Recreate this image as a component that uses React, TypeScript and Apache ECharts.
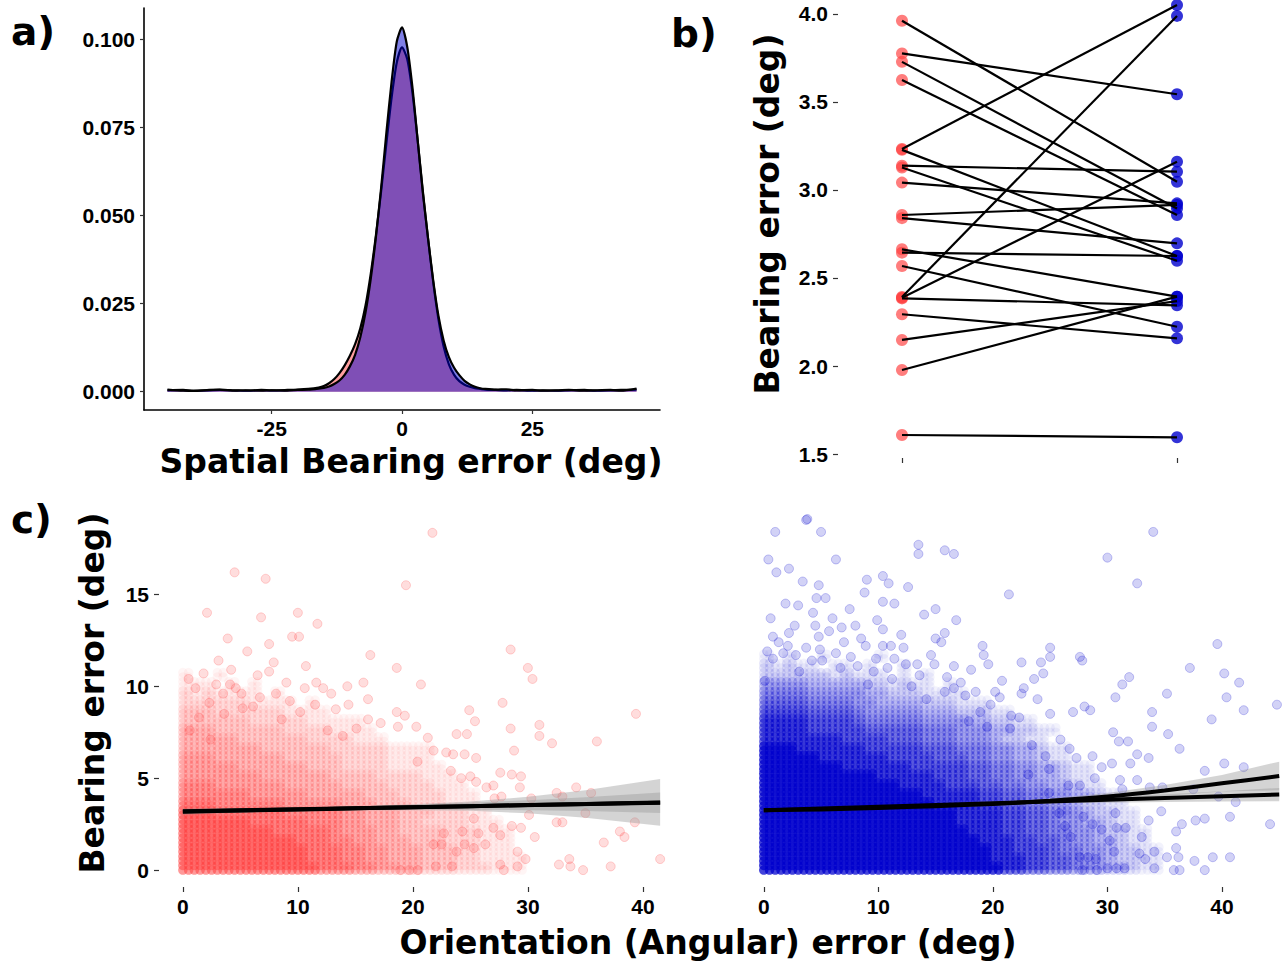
import React, { useEffect, useRef } from "react";
import * as echarts from "echarts";

// ---------------- Panel a: density of spatial bearing error ----------------
const densX = [-45, -42, -40, -37, -35, -32, -30, -27, -25, -22, -20, -18, -16, -15, -14, -13, -12, -11, -10, -9, -8, -7, -6, -5, -4, -3, -2, -1, 0, 1, 2, 3, 4, 5, 6, 7, 8, 9, 10, 11, 12, 13, 14, 15, 16, 18, 20, 22, 25, 27, 30, 32, 35, 37, 40, 42, 45];
const densRed = [0.0004, 0.0005, 0.0003, 0.0004, 0.0005, 0.0004, 0.0003, 0.0005, 0.0004, 0.0005, 0.0006, 0.0008, 0.0012, 0.0016, 0.0024, 0.0036, 0.0053, 0.0075, 0.0102, 0.0135, 0.018, 0.0245, 0.0335, 0.0445, 0.057, 0.0705, 0.0835, 0.0935, 0.0978, 0.0945, 0.085, 0.0715, 0.057, 0.0435, 0.031, 0.0205, 0.0128, 0.0078, 0.0048, 0.003, 0.002, 0.0014, 0.001, 0.0008, 0.0006, 0.0005, 0.0004, 0.0005, 0.0003, 0.0004, 0.0003, 0.0004, 0.0005, 0.0003, 0.0004, 0.0005, 0.0006];
const densBlue = [0.0006, 0.0003, 0.0002, 0.0005, 0.0006, 0.0003, 0.0004, 0.0003, 0.0004, 0.0003, 0.0005, 0.0006, 0.0009, 0.0011, 0.0015, 0.0022, 0.0032, 0.0048, 0.0072, 0.0105, 0.0155, 0.0225, 0.032, 0.044, 0.058, 0.0735, 0.088, 0.0995, 0.1035, 0.098, 0.0865, 0.0715, 0.0565, 0.0435, 0.0315, 0.0215, 0.0145, 0.0098, 0.0068, 0.0047, 0.0031, 0.0021, 0.0014, 0.001, 0.0008, 0.0006, 0.0007, 0.0004, 0.0005, 0.0003, 0.0004, 0.0005, 0.0003, 0.0004, 0.0005, 0.0003, 0.0009];
const densXTicks = [-25, 0, 25];
const densYTicks = [0, 0.025, 0.05, 0.075, 0.1];

// ---------------- Panel b: paired bearing error ----------------
const pairRed = [3.962, 3.776, 3.728, 3.625, 3.233, 3.228, 3.138, 3.128, 3.042, 2.858, 2.840, 2.663, 2.644, 2.568, 2.392, 2.388, 2.384, 2.294, 2.148, 1.977, 1.608];
const pairBlue = [3.047, 3.544, 2.895, 2.858, 4.051, 2.625, 3.104, 2.598, 2.924, 2.915, 2.697, 2.394, 2.625, 2.223, 3.989, 3.161, 2.345, 2.157, 2.369, 2.394, 1.595];
const pairYTicks = [1.5, 2.0, 2.5, 3.0, 3.5, 4.0];
const pairXTicks = [1, 2];

// ---------------- Panel c: scatter, orientation error vs bearing error ----------------
const scatXTicks = [0, 10, 20, 30, 40];
const scatYTicks = [0, 5, 10, 15];

// dense cores: estimated darkness level (0-9) of the overlapping points per cell;
// rows from y=12 down to y=0 (step 0.5), columns x=0..34 (step 1)
const blueCoreRows = [
  "00000000000000000000000000000000000",
  "10100100001000000000000000000000000",
  "21211011010010000000000000000000000",
  "22222212111010100000000000000000000",
  "44443333322121101000000000000000000",
  "55554444433222111100000000000000000",
  "66665555443333222111000000000000000",
  "77776666544444333222110000000000000",
  "88887777655555444433221100000000000",
  "88887777766666555444332211000000000",
  "88888887777666555444322110000000000",
  "99988888877777666555443321100000000",
  "99999888888777766655443321100000000",
  "99999998888887777766554433211000000",
  "99999999998888877766554433211000000",
  "99999999999988887776655443321100000",
  "99999999999999888887766554433211000",
  "99999999999999988887766554432211000",
  "99999999999999999888877665543221100",
  "99999999999999999888877665443321100",
  "99999999999999999988877665544322110",
  "99999999999999999998887766544332110",
  "99999999999999999999887776554432211",
  "99999999999999999999888776654432211",
  "99999999999999999999988776655433211",
];
const redCoreRows = [
  "00000000000000000000000000000000000",
  "00000000000000000000000000000000000",
  "00000000000000000000000000000000000",
  "10010000000000000000000000000000000",
  "11101010000000000000000000000000000",
  "21211110100000000000000000000000000",
  "22222211110100000000000000000000000",
  "33322222211110000000000000000000000",
  "33333322222111110000000000000000000",
  "44433333322221111000000000000000000",
  "44444333333222211100000000000000000",
  "44444443333332222211110000000000000",
  "55544444433333222211110000000000000",
  "55555444444333222211111000000000000",
  "55555554444443333222211100000000000",
  "66655555544444333322221110000000000",
  "66666655555444443332222111000000000",
  "77766666655555444333222111000000000",
  "88877777766666554443332221100000000",
  "88888877777666554443322221110000000",
  "88888888777776555443333222111000000",
  "88888888887776655444333222111000000",
  "88888888888777665544433322111000000",
  "88888888888777665544433322111100000",
  "88888888888877766554433322211100000",
];

// sparse, individually visible points [orientation error, bearing error]
const redPts = [
  [21.7, 18.35], [4.5, 16.2], [7.2, 15.85], [19.4, 15.5], [2.1, 14.0], [6.8, 13.75], [10.0, 14.0], [11.7, 13.4], [9.5, 12.7], [10.1, 12.7],
  [3.9, 12.6], [7.5, 12.3], [28.5, 12.0], [16.3, 11.7], [10.7, 11.1], [30.0, 11.0], [7.9, 11.3], [4.2, 10.9], [18.6, 11.0], [30.4, 10.4],
  [1.8, 10.7], [6.5, 10.6], [7.5, 10.8], [9.0, 10.2], [11.6, 10.2], [15.7, 10.2], [20.7, 10.1], [14.3, 10.0], [12.2, 9.9], [1.1, 9.9],
  [2.9, 10.1], [4.1, 10.1], [10.6, 9.9], [16.1, 9.3], [27.8, 9.1], [3.5, 9.6], [5.1, 9.6], [6.7, 9.4], [9.3, 9.2], [11.5, 9.0],
  [13.3, 8.75], [14.4, 9.0], [24.9, 8.7], [39.4, 8.5], [19.3, 8.4], [18.6, 8.6], [3.6, 8.5], [5.2, 8.8], [16.1, 8.2], [17.2, 8.0],
  [25.4, 8.1], [31.0, 7.9], [20.3, 7.8], [18.7, 7.8], [28.5, 7.7], [31.0, 7.3], [23.8, 7.4], [24.7, 7.4], [21.3, 7.2], [36.0, 7.0],
  [32.1, 6.9], [21.8, 6.5], [28.8, 6.5], [22.9, 6.4], [24.5, 6.3], [25.5, 6.1], [20.4, 5.9], [23.5, 6.3], [23.3, 5.4], [27.6, 5.3],
  [28.6, 5.2], [29.4, 5.1], [24.2, 5.0], [25.0, 5.1], [25.5, 4.8], [26.4, 4.5], [27.0, 4.6], [29.3, 4.5], [34.2, 4.5], [32.5, 4.2],
  [35.5, 4.2], [33.0, 4.0], [30.3, 3.9], [27.7, 4.0], [27.1, 3.9], [35.0, 3.1], [30.1, 3.0], [28.6, 2.4], [29.4, 2.3], [32.5, 2.6],
  [33.0, 2.6], [39.3, 2.6], [30.6, 1.8], [27.6, 1.9], [27.0, 2.3], [25.3, 2.8], [24.3, 2.1], [25.7, 2.0], [26.3, 1.4], [24.5, 1.4],
  [25.3, 1.2], [38.0, 2.1], [38.4, 1.8], [36.6, 1.5], [29.1, 1.0], [29.8, 0.6], [29.1, 0.2], [27.6, 0.3], [27.9, 0.0], [32.7, 0.3],
  [33.6, 0.6], [33.7, 0.2], [34.8, 0.0], [37.2, 0.2], [41.5, 0.6], [23.8, 1.0], [23.4, 0.2], [22.0, 0.2], [22.7, 2.0], [21.8, 1.4],
  [22.5, 1.4], [20.4, 0.0], [19.7, 0.0], [18.9, 0.0], [13.9, 7.3], [12.6, 7.6], [8.6, 8.2], [0.6, 7.6], [2.4, 7.1], [15.1, 7.7],
  [0.5, 10.4], [2.3, 9.1], [4.6, 9.9], [8.1, 9.6], [6.1, 8.9], [10.2, 8.6], [12.9, 9.6], [1.4, 8.3], [3.1, 11.4], [5.6, 11.9],
];
const bluePts = [
  [12.85, 19.4], [3.8, 19.1], [3.7, 19.05], [1.0, 18.4], [5.0, 18.4], [34.0, 18.4], [13.5, 17.7], [13.5, 17.2], [15.8, 17.4], [16.6, 17.2],
  [0.4, 16.9], [6.3, 16.9], [30.0, 17.0], [1.1, 16.2], [2.2, 16.4], [3.4, 15.7], [4.8, 15.5], [9.0, 15.8], [10.4, 16.0], [10.9, 15.6],
  [12.6, 15.4], [8.8, 15.1], [32.6, 15.6], [4.6, 14.8], [5.4, 14.8], [1.9, 14.5], [10.4, 14.6], [11.4, 14.5], [21.4, 15.0], [0.6, 13.7],
  [4.3, 14.0], [7.5, 14.2], [9.9, 13.6], [14.0, 13.9], [15.0, 14.2], [16.8, 13.6], [0.8, 12.7], [2.7, 13.3], [4.5, 13.3], [6.8, 13.2],
  [8.0, 13.3], [10.4, 13.1], [2.2, 12.9], [4.8, 12.7], [5.7, 13.0], [15.0, 12.6], [15.8, 12.9], [8.5, 12.6], [2.1, 12.2], [3.7, 12.1],
  [7.0, 12.4], [8.9, 12.2], [10.4, 12.2], [11.1, 12.2], [12.2, 12.1], [15.5, 12.4], [19.1, 12.2], [25.0, 12.1], [39.6, 12.3], [0.1, 10.3],
  [0.8, 11.5], [1.7, 11.8], [2.8, 11.7], [4.2, 11.4], [5.1, 11.4], [6.3, 11.8], [6.7, 11.0], [8.2, 11.1], [9.8, 11.5], [11.4, 11.5],
  [12.4, 11.2], [13.4, 11.2], [14.9, 11.2], [16.6, 11.1], [19.2, 11.7], [19.6, 11.2], [22.5, 11.3], [24.2, 11.3], [25.0, 11.6], [27.6, 11.6],
  [27.8, 11.4], [37.2, 11.0], [40.2, 10.7], [41.5, 10.2], [44.8, 9.0], [35.2, 9.6], [40.4, 9.4], [41.9, 8.7], [39.1, 8.2], [36.3, 6.6],
  [31.9, 10.5], [31.3, 10.1], [30.7, 9.4], [33.9, 8.6], [33.9, 7.8], [35.3, 7.4], [30.5, 7.5], [31.0, 7.0], [31.8, 7.0], [28.7, 6.2],
  [32.6, 6.3], [33.6, 6.1], [32.0, 5.8], [30.4, 5.8], [29.5, 5.6], [38.5, 5.4], [40.2, 5.8], [41.9, 5.6], [27.0, 8.6], [28.0, 8.9],
  [28.5, 8.7], [25.0, 8.5], [22.5, 9.6], [23.6, 10.4], [24.4, 10.7], [23.9, 9.3], [22.7, 9.9], [21.6, 8.4], [22.3, 8.3], [20.6, 9.4],
  [20.2, 9.7], [18.5, 9.7], [17.6, 9.5], [16.6, 9.9], [15.8, 9.7], [27.3, 6.1], [26.7, 6.6], [25.9, 7.1], [28.9, 5.0], [31.1, 4.9],
  [31.3, 4.4], [32.6, 4.9], [33.7, 4.5], [34.8, 4.5], [37.5, 4.4], [39.7, 4.0], [41.2, 3.7], [44.2, 2.5], [40.7, 2.9], [38.5, 2.8],
  [37.7, 2.7], [36.5, 2.5], [36.0, 2.1], [34.7, 3.2], [33.6, 2.7], [33.0, 1.8], [31.6, 2.3], [30.7, 3.1], [30.8, 2.3], [30.2, 1.6],
  [30.6, 1.0], [32.8, 0.9], [33.3, 0.6], [34.1, 1.0], [35.2, 0.7], [36.0, 1.2], [36.2, 0.7], [37.6, 0.5], [39.2, 0.7], [40.7, 0.7],
  [35.8, 0.0], [36.3, 0.0], [38.5, 0.0], [34.1, 0.1], [31.5, 0.1], [30.8, 0.1], [30.0, 0.1], [29.1, 0.0], [27.8, 0.0], [29.0, 0.6],
  [28.3, 0.7], [27.6, 0.7], [27.9, 2.9], [28.7, 2.5], [29.5, 2.2], [26.8, 1.8], [26.3, 2.4], [25.8, 3.1], [26.6, 4.6], [27.6, 4.6],
  [24.9, 5.5], [24.9, 4.2], [23.1, 5.2], [18.9, 8.6], [19.5, 7.8], [17.9, 8.1], [14.2, 9.3], [12.9, 10.0], [11.2, 10.4], [9.6, 10.8],
  [0.3, 11.9], [1.3, 12.4], [3.1, 10.8], [4.9, 12.0], [7.6, 11.6], [9.1, 10.1], [10.8, 11.0], [13.6, 10.6], [16.0, 10.5], [18.1, 10.9],
  [20.8, 10.3], [21.5, 7.7], [23.4, 6.8], [24.6, 6.2], [19.8, 9.0], [17.2, 10.2], [14.6, 11.7], [12.0, 12.8], [6.0, 13.7], [3.0, 14.4],
];

// regression fits (linear and smooth) with confidence bands
const fitLX = [0, 5, 10, 15, 20, 25, 30, 35, 41.5];
const lmLineLX = [0, 41.5];
const lmLineLY = [3.2, 3.66];
const lmBandLLo = [3.08, 3.155, 3.22, 3.266, 3.29, 3.287, 3.26, 3.22, 3.1];
const lmBandLHi = [3.32, 3.355, 3.4, 3.466, 3.55, 3.667, 3.8, 3.96, 4.22];
const smLineLY = [3.18, 3.24, 3.3, 3.36, 3.42, 3.48, 3.54, 3.6, 3.68];
const smBandLLo = [3.01, 3.12, 3.19, 3.24, 3.26, 3.23, 3.09, 2.85, 2.41];
const smBandLHi = [3.35, 3.36, 3.41, 3.48, 3.58, 3.73, 3.99, 4.35, 4.95];

const fitRX = [0, 5, 10, 15, 20, 25, 30, 35, 40, 45];
const lmLineRX = [0, 45];
const lmLineRY = [3.25, 4.11];
const lmBandRLo = [3.18, 3.3, 3.4, 3.49, 3.56, 3.63, 3.67, 3.71, 3.73, 3.75];
const lmBandRHi = [3.32, 3.4, 3.49, 3.59, 3.7, 3.83, 3.97, 4.13, 4.29, 4.47];
const smLineRY = [3.25, 3.3, 3.38, 3.48, 3.6, 3.77, 4.0, 4.33, 4.72, 5.12];
const smBandRLo = [3.16, 3.24, 3.32, 3.41, 3.51, 3.64, 3.8, 4.03, 4.27, 4.34];
const smBandRHi = [3.34, 3.36, 3.44, 3.55, 3.69, 3.9, 4.2, 4.63, 5.17, 5.9];

const RED = "255,64,64";
const BLUE = "0,0,205";
const FONT_TICK = '"Liberation Sans", Arial, Helvetica, sans-serif';
const FONT_TITLE = '"DejaVu Sans", sans-serif';
// effective darkness for levels 0-9
const LEVEL_DARK = [0, 0.12, 0.22, 0.32, 0.42, 0.52, 0.62, 0.72, 0.84, 0.96];
const CORE_SIZE = 9.5;
const CORE_COVER = 2.4; // average number of overlapping sub-points at one pixel
const SUB_DX = [0, 0.5];
const SUB_DY = [0, 0.25];

function coreData(rows: string[]) {
  const out: any[] = [];
  rows.forEach((row, i) => {
    const y = 12 - 0.5 * i;
    for (let j = 0; j < row.length; j++) {
      const n = Number(row[j]);
      if (n > 0) {
        const o = 1 - Math.pow(1 - LEVEL_DARK[n], 1 / CORE_COVER);
        for (const dx of SUB_DX) {
          for (const dy of SUB_DY) {
            out.push({ value: [j + dx, y + dy], itemStyle: { opacity: o } });
          }
        }
      }
    }
  });
  return out;
}

function band(xs: number[], lo: number[], hi: number[], xi: number, yi: number) {
  return {
    type: "custom",
    xAxisIndex: xi,
    yAxisIndex: yi,
    silent: true,
    z: 5,
    data: [[xs[0], lo[0]]],
    renderItem: (params: any, api: any) => {
      const up = xs.map((x, i) => api.coord([x, hi[i]]));
      const dn = xs.map((x, i) => api.coord([x, lo[i]])).reverse();
      return {
        type: "polygon",
        shape: { points: up.concat(dn) },
        style: { fill: "rgba(153,153,153,0.42)", stroke: "none" },
      };
    },
  };
}

const tickLabel = { fontSize: 21, fontWeight: "bold", fontFamily: FONT_TICK, color: "#000" };
const titleStyle = { fontSize: 33, fontWeight: "bold", fontFamily: FONT_TITLE, fill: "#000", textAlign: "center", textVerticalAlign: "middle" };
const tagStyle = { fontSize: 39, fontWeight: "bold", fontFamily: FONT_TITLE, fill: "#000", textAlign: "left", textVerticalAlign: "middle" };

export default function App() {
  const ref = useRef<HTMLDivElement>(null);
  useEffect(() => {
    if (!ref.current) return;
    const chart = echarts.init(ref.current, undefined, { renderer: "svg" });

    const pairSeries = pairRed.map((r, i) => ({
      type: "line",
      xAxisIndex: 1,
      yAxisIndex: 1,
      data: [[1, r], [2, pairBlue[i]]],
      symbol: "none",
      lineStyle: { color: "#000", width: 2.2 },
      z: 4,
      silent: true,
    }));

    const option: any = {
      animation: false,
      backgroundColor: "#fff",
      grid: [
        { left: 144, top: 8, width: 516, height: 402, outerBoundsMode: "none" },
        { left: 838, top: 0, width: 403, height: 458, outerBoundsMode: "none" },
        { left: 159, top: 515, width: 525, height: 372, outerBoundsMode: "none" },
        { left: 738, top: 515, width: 567, height: 372, outerBoundsMode: "none" },
      ],
      xAxis: [
        {
          type: "value", gridIndex: 0, min: -49.5, max: 49.5,
          axisLine: { show: true, onZero: false, lineStyle: { color: "#000", width: 1.6 } },
          axisTick: { show: true, length: 4, customValues: densXTicks, lineStyle: { color: "#333", width: 1.2 } },
          axisLabel: { ...tickLabel, margin: 8, customValues: densXTicks },
          splitLine: { show: false },
        },
        {
          type: "value", gridIndex: 1, min: 0.7673, max: 2.2327,
          axisLine: { show: false },
          axisTick: { show: true, length: 5, customValues: pairXTicks, lineStyle: { color: "#333", width: 1.2 } },
          axisLabel: { show: false },
          splitLine: { show: false },
        },
        {
          type: "value", gridIndex: 2, min: -2.075, max: 43.575,
          axisLine: { show: false, onZero: false },
          axisTick: { show: true, length: 5, customValues: scatXTicks, lineStyle: { color: "#333", width: 1.2 } },
          axisLabel: { ...tickLabel, margin: 9, customValues: scatXTicks },
          splitLine: { show: false },
        },
        {
          type: "value", gridIndex: 3, min: -2.25, max: 47.25,
          axisLine: { show: false, onZero: false },
          axisTick: { show: true, length: 5, customValues: scatXTicks, lineStyle: { color: "#333", width: 1.2 } },
          axisLabel: { ...tickLabel, margin: 9, customValues: scatXTicks },
          splitLine: { show: false },
        },
      ],
      yAxis: [
        {
          type: "value", gridIndex: 0, min: -0.00519, max: 0.109,
          axisLine: { show: true, onZero: false, lineStyle: { color: "#000", width: 1.6 } },
          axisTick: { show: true, length: 4, customValues: densYTicks, lineStyle: { color: "#333", width: 1.2 } },
          axisLabel: { ...tickLabel, margin: 9, customValues: densYTicks, formatter: (v: number) => v.toFixed(3) },
          splitLine: { show: false },
        },
        {
          type: "value", gridIndex: 1, min: 1.4773, max: 4.0795,
          axisLine: { show: false },
          axisTick: { show: true, length: 5, customValues: pairYTicks, lineStyle: { color: "#333", width: 1.2 } },
          axisLabel: { ...tickLabel, margin: 10, customValues: pairYTicks, formatter: (v: number) => v.toFixed(1) },
          splitLine: { show: false },
        },
        {
          type: "value", gridIndex: 2, min: -0.92, max: 19.32,
          axisLine: { show: false, onZero: false },
          axisTick: { show: true, length: 5, customValues: scatYTicks, lineStyle: { color: "#333", width: 1.2 } },
          axisLabel: { ...tickLabel, margin: 10, customValues: scatYTicks },
          splitLine: { show: false },
        },
        {
          type: "value", gridIndex: 3, min: -0.92, max: 19.32,
          axisLine: { show: false, onZero: false },
          axisTick: { show: false },
          axisLabel: { show: false },
          splitLine: { show: false },
        },
      ],
      series: [
        // panel a
        {
          type: "line", xAxisIndex: 0, yAxisIndex: 0, smooth: 0.25, showSymbol: false, symbol: "none",
          data: densX.map((x, i) => [x, densRed[i]]),
          lineStyle: { color: "#000", width: 2.2 },
          areaStyle: { color: `rgb(${RED})`, opacity: 0.5, origin: 0 },
          z: 2, silent: true,
        },
        {
          type: "line", xAxisIndex: 0, yAxisIndex: 0, smooth: 0.25, showSymbol: false, symbol: "none",
          data: densX.map((x, i) => [x, densBlue[i]]),
          lineStyle: { color: "#000", width: 2.2 },
          areaStyle: { color: `rgb(${BLUE})`, opacity: 0.5, origin: 0 },
          z: 3, silent: true,
        },
        // panel b
        {
          type: "scatter", xAxisIndex: 1, yAxisIndex: 1, symbolSize: 12,
          data: pairRed.map((v) => [1, v]),
          itemStyle: { color: `rgba(${RED},0.85)` }, z: 2, silent: true,
        },
        {
          type: "scatter", xAxisIndex: 1, yAxisIndex: 1, symbolSize: 12,
          data: pairBlue.map((v) => [2, v]),
          itemStyle: { color: `rgb(${BLUE})` }, z: 2, silent: true,
        },
        ...pairSeries,
        // panel c left
        {
          type: "scatter", xAxisIndex: 2, yAxisIndex: 2, symbolSize: CORE_SIZE,
          data: coreData(redCoreRows),
          itemStyle: { color: `rgb(${RED})` }, z: 1, silent: true,
        },
        {
          type: "scatter", xAxisIndex: 2, yAxisIndex: 2, symbolSize: 9,
          data: redPts,
          itemStyle: { color: `rgba(${RED},0.22)`, borderColor: `rgba(${RED},0.28)`, borderWidth: 1 }, z: 2, silent: true,
        },
        band(fitLX, smBandLLo, smBandLHi, 2, 2),
        band(fitLX, lmBandLLo, lmBandLHi, 2, 2),
        {
          type: "line", xAxisIndex: 2, yAxisIndex: 2, smooth: 0.3, symbol: "none",
          data: fitLX.map((x, i) => [x, smLineLY[i]]),
          lineStyle: { color: "#000", width: 4 }, z: 6, silent: true,
        },
        {
          type: "line", xAxisIndex: 2, yAxisIndex: 2, symbol: "none",
          data: lmLineLX.map((x, i) => [x, lmLineLY[i]]),
          lineStyle: { color: "#000", width: 4 }, z: 6, silent: true,
        },
        // panel c right
        {
          type: "scatter", xAxisIndex: 3, yAxisIndex: 3, symbolSize: CORE_SIZE,
          data: coreData(blueCoreRows),
          itemStyle: { color: `rgb(${BLUE})` }, z: 1, silent: true,
        },
        {
          type: "scatter", xAxisIndex: 3, yAxisIndex: 3, symbolSize: 9,
          data: bluePts,
          itemStyle: { color: `rgba(${BLUE},0.22)`, borderColor: `rgba(${BLUE},0.28)`, borderWidth: 1 }, z: 2, silent: true,
        },
        band(fitRX, smBandRLo, smBandRHi, 3, 3),
        band(fitRX, lmBandRLo, lmBandRHi, 3, 3),
        {
          type: "line", xAxisIndex: 3, yAxisIndex: 3, smooth: 0.3, symbol: "none",
          data: fitRX.map((x, i) => [x, smLineRY[i]]),
          lineStyle: { color: "#000", width: 4 }, z: 6, silent: true,
        },
        {
          type: "line", xAxisIndex: 3, yAxisIndex: 3, symbol: "none",
          data: lmLineRX.map((x, i) => [x, lmLineRY[i]]),
          lineStyle: { color: "#000", width: 4 }, z: 6, silent: true,
        },
      ],
      graphic: [
        { type: "text", x: 11, y: 31, style: { text: "a)", ...tagStyle } },
        { type: "text", x: 671, y: 33, style: { text: "b)", ...tagStyle } },
        { type: "text", x: 11, y: 519, style: { text: "c)", ...tagStyle } },
        { type: "text", x: 411, y: 461, style: { text: "Spatial Bearing error (deg)", ...titleStyle } },
        { type: "text", x: 767, y: 214, rotation: Math.PI / 2, style: { text: "Bearing error (deg)", ...titleStyle } },
        { type: "text", x: 92, y: 693, rotation: Math.PI / 2, style: { text: "Bearing error (deg)", ...titleStyle } },
        { type: "text", x: 708, y: 942, style: { text: "Orientation (Angular) error (deg)", ...titleStyle } },
      ],
    };
    chart.setOption(option);
    return () => chart.dispose();
  }, []);
  return (
    <div
      ref={ref}
      style={{ position: "absolute", left: 0, top: 0, width: 1285, height: 963, background: "#fff" }}
    />
  );
}
